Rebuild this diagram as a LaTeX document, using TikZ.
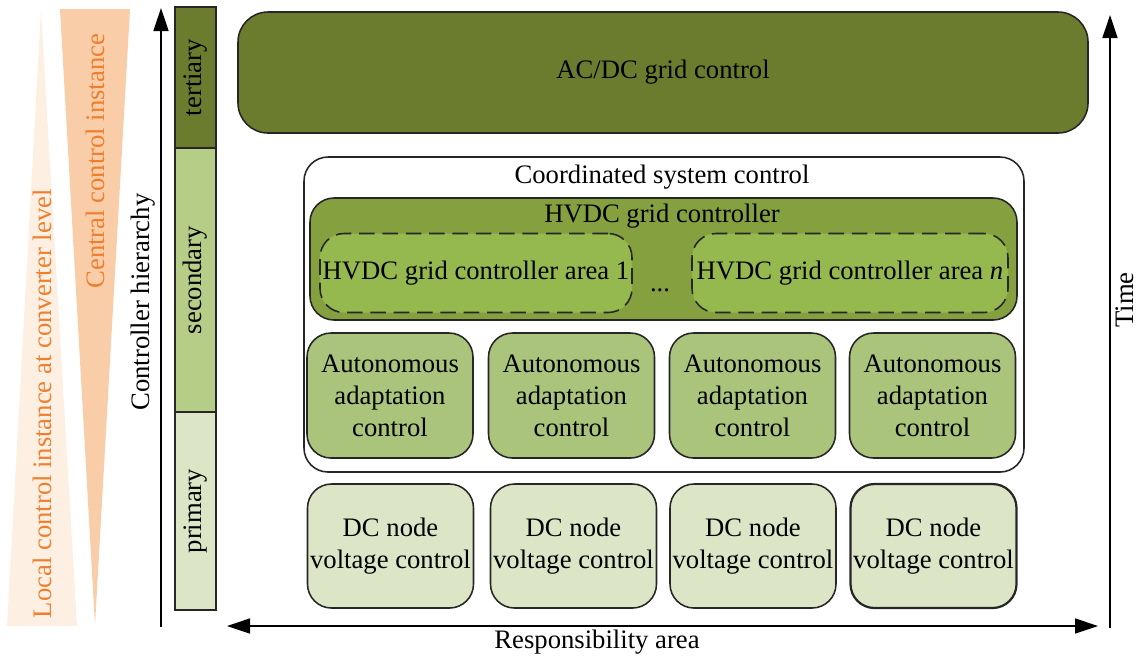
\documentclass[tikz,border=0pt]{standalone}
\usepackage{fontspec}
\setmainfont{Liberation Serif}
\usetikzlibrary{arrows.meta}

\newcommand\px{0.45pt}
\definecolor{tertcol}{HTML}{6B7C2E}
\definecolor{hvdccol}{HTML}{84A03F}
\definecolor{areacol}{HTML}{95B84F}
\definecolor{seccol}{HTML}{B5CD86}
\definecolor{autcol}{HTML}{ABC47B}
\definecolor{primcol}{HTML}{DCE6C7}
\definecolor{orangetxt}{HTML}{EE7F2D}
\definecolor{centralcol}{HTML}{F8CDA8}
\definecolor{localcol}{HTML}{FDEFE2}

\tikzset{
  lvl/.style={draw=black!85, line width=0.7pt, minimum height=41*\px, inner sep=0pt, rotate=90},
  blk/.style={draw=black!85, line width=0.7pt, rounded corners=24*\px, align=center},
  ctrl/.style={blk, minimum width=166*\px, minimum height=125*\px, fill=autcol},
  dcnode/.style={blk, minimum width=166*\px, minimum height=124*\px, inner sep=1pt, fill=primcol},
  areabox/.style={blk, dashed, dash pattern=on 7pt off 3.5pt, minimum height=79*\px, fill=areacol, inner sep=1pt},
  axis/.style={line width=0.7pt, -{Triangle[length=23*\px, width=15*\px]}}
}

\begin{document}
\begin{tikzpicture}[x=\px, y=-\px, font=\fontsize{12pt}{14.4pt}\selectfont]
\useasboundingbox (0,0) rectangle (1138,656);

% instance wedges
\fill[localcol] (41,10) -- (77,626) -- (7,626) -- cycle;
\fill[centralcol] (60,9) -- (130,9) -- (95,625) -- cycle;
\node[rotate=90, text=orangetxt, anchor=west] (local) at (42,626) {Local control instance at converter level};
\node[rotate=90, text=orangetxt, anchor=east] (central) at (95,26) {Central control instance};

% hierarchy axis
\coordinate (hbot) at (161,627);
\coordinate (htop) at (161,8);
\draw[axis] (hbot) -- (htop);
\node[rotate=90] (hier) at (143,302) {Controller hierarchy};

% levels
\node[lvl, fill=tertcol, minimum width=141*\px] (tert) at (195.5,77.5) {tertiary};
\node[lvl, fill=seccol, minimum width=264*\px] (sec) at (195.5,280) {secondary};
\node[lvl, fill=primcol, minimum width=198*\px] (prim) at (195.5,511) {primary};

% tertiary
\node[blk, fill=tertcol, rounded corners=30*\px, minimum width=850*\px, minimum height=121*\px] (acdc) at (663,72.5) {AC/DC grid control};

% secondary
\node[blk, fill=white, minimum width=720*\px, minimum height=315*\px] (coord) at (664,314.5) {};
\node (coordlbl) at (662,177) {Coordinated system control};
\node[blk, fill=hvdccol, minimum width=707*\px, minimum height=122*\px] (hvdc) at (663.5,259) {};
\node (hvdclbl) at (662,216) {HVDC grid controller};
\node[areabox, minimum width=312*\px] (area1) at (476,273) {HVDC grid controller area 1};
\node[areabox, minimum width=316*\px] (arean) at (850,273) {HVDC grid controller area \textit{n}};
\node (dots) at (660,290) {...};

\node[ctrl] (aut1) at (390,395.5) {Autonomous\\adaptation\\control};
\node[ctrl] (aut2) at (571.5,395.5) {Autonomous\\adaptation\\control};
\node[ctrl] (aut3) at (752.5,395.5) {Autonomous\\adaptation\\control};
\node[ctrl] (aut4) at (932.5,395.5) {Autonomous\\adaptation\\control};

% primary
\node[dcnode] (dc1) at (390.5,546) {DC node\\voltage control};
\node[dcnode] (dc2) at (573.5,546) {DC node\\voltage control};
\node[dcnode] (dc3) at (753,546) {DC node\\voltage control};
\node[dcnode, line width=1pt] (dc4) at (933.5,546) {DC node\\voltage control};

% responsibility and time axes
\coordinate (rleft) at (227,626);
\coordinate (rright) at (1098,626);
\draw[axis, {Triangle[length=23*\px, width=15*\px]}-{Triangle[length=23*\px, width=15*\px]}] (rleft) -- (rright);
\node (resp) at (597,642) {Responsibility area};
\coordinate (tbot) at (1110,628);
\coordinate (ttop) at (1110,15);
\draw[axis] (tbot) -- (ttop);
\node[rotate=90] (time) at (1125,300) {Time};
\end{tikzpicture}
\end{document}
